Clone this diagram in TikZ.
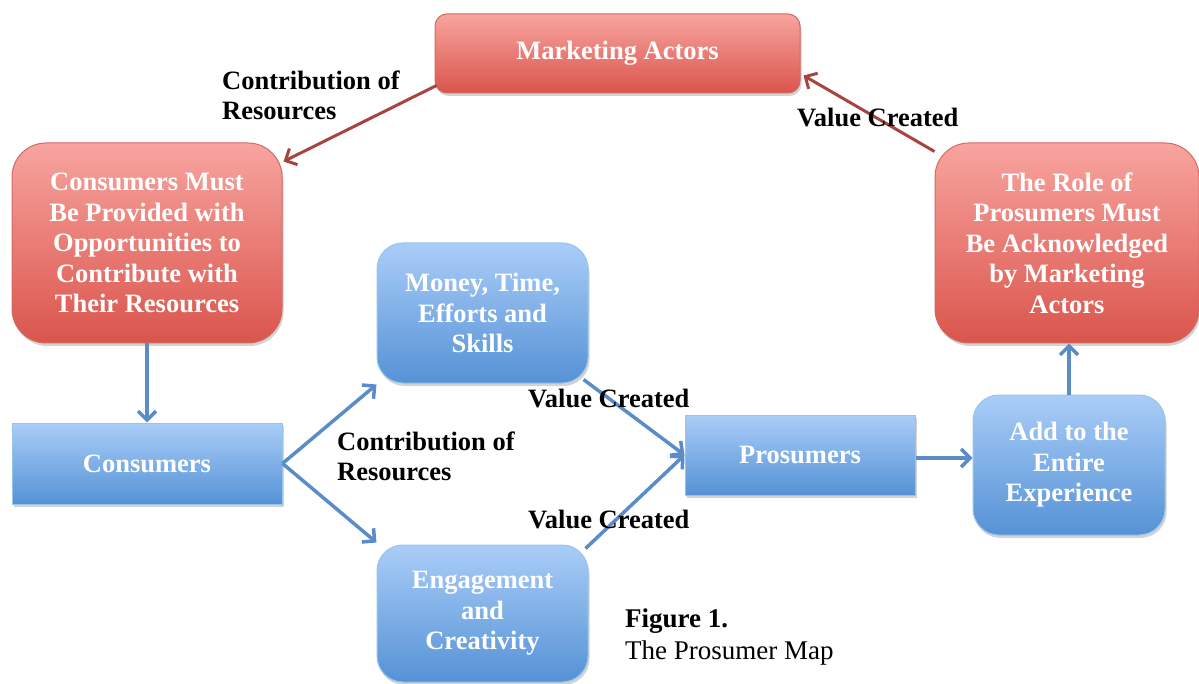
\documentclass[tikz,border=0pt]{standalone}
\usepackage{fontspec}
\setmainfont{Liberation Serif}
\usetikzlibrary{arrows.meta,calc,shadows}

\definecolor{redtop}{HTML}{F8A49F}
\definecolor{redbot}{HTML}{DA554C}
\definecolor{redline}{HTML}{D26A64}
\definecolor{bluetop}{HTML}{AACDF8}
\definecolor{bluebot}{HTML}{5592D6}
\definecolor{blueline}{HTML}{93C6E8}
\definecolor{bluearrow}{HTML}{5A8DC8}
\definecolor{redarrow}{HTML}{A6443F}

\tikzset{
  box/.style={draw, line width=1pt, minimum width=#1, align=center,
    text=white, font=\fontsize{26.5}{30.5}\selectfont\bfseries, inner sep=0pt,
    drop shadow={opacity=0.35, shadow xshift=1.5pt, shadow yshift=-3pt}},
  redbox/.style={box=#1, draw=redline, top color=redtop, bottom color=redbot},
  bluebox/.style={box=#1, draw=blueline, top color=bluetop, bottom color=bluebot},
  redflow/.style={draw=redarrow, line width=3pt,
    -{Straight Barb[length=9pt,width=18pt,line width=3pt]}},
  blueflow/.style={draw=bluearrow, line width=3.5pt,
    -{Straight Barb[length=9pt,width=18pt,line width=3.5pt]}},
  lbl/.style={align=left, anchor=west, inner sep=0pt,
    font=\fontsize{26.5}{30}\selectfont\bfseries, text=black}
}

\begin{document}
\begin{tikzpicture}[x=1pt,y=-1pt]
\useasboundingbox (0,0) rectangle (1199,684);

% red boxes: the actors' loop
\node[redbox=365pt, minimum height=79pt, rounded corners=12pt] (mkt) at (617.5,53.5)
  {\raisebox{-3pt}{Marketing Actors}};
\node[redbox=270pt, minimum height=200pt, rounded corners=34pt] (cmust) at (147,243)
  {Consumers Must\\Be Provided with\\Opportunities to\\Contribute with\\Their Resources};
\node[redbox=264pt, minimum height=200pt, rounded corners=34pt] (role) at (1067,243)
  {The Role of\\Prosumers Must\\Be Acknowledged\\by Marketing\\Actors};

% blue boxes: the consumer side
\node[bluebox=270pt, minimum height=81pt] (cons) at (147,463.5) {Consumers};
\node[bluebox=211pt, minimum height=140pt, rounded corners=26pt] (money) at (482.5,313)
  {Money, Time,\\Efforts and\\Skills};
\node[bluebox=211pt, minimum height=137pt, rounded corners=26pt] (engage) at (482.5,613.5)
  {Engagement\\and\\Creativity};
\node[bluebox=230pt, minimum height=80pt] (pros) at (800,455) {Prosumers};
\node[bluebox=192pt, minimum height=140pt, rounded corners=26pt] (add) at (1069,465)
  {Add to the\\Entire\\Experience};

% connectors
\draw[redflow] ($(mkt.south west)+(2,-8)$) -- ($(cmust.north east)+(1,19)$);
\draw[redflow] ($(role.north west)+(0,9)$) -- ($(mkt.south east)+(3,-18)$);
\draw[blueflow] (cmust.south) -- (cons.north);
\draw[blueflow] (cons.east) -- ($(money.south west)+(0,1)$);
\draw[blueflow] (cons.east) -- ($(engage.north west)+(0,-2)$);
\draw[blueflow] ($(money.south east)+(-5,-4)$) -- (pros.west);
\draw[blueflow] ($(engage.north east)+(-3,4)$) -- (pros.west);
\draw[blueflow] ($(pros.east)+(0,3)$) -- ($(pros.east -| add.west)+(0,3)$);
\draw[blueflow] (add.north) -- (add.north |- role.south);

% connector labels
\node[lbl] (l1) at (222,95) {Contribution of\\Resources};
\node[lbl] (l2) at (797,118) {Value Created};
\node[lbl] (l3) at (528,399) {Value Created};
\node[lbl] (l4) at (337,456) {Contribution of\\Resources};
\node[lbl] (l5) at (528,520) {Value Created};

% caption
\node[anchor=west, inner sep=0pt, font=\fontsize{27}{32}\selectfont, align=left] (cap) at (625,637)
  {\textbf{Figure 1.}\\The Prosumer Map};
\end{tikzpicture}
\end{document}
